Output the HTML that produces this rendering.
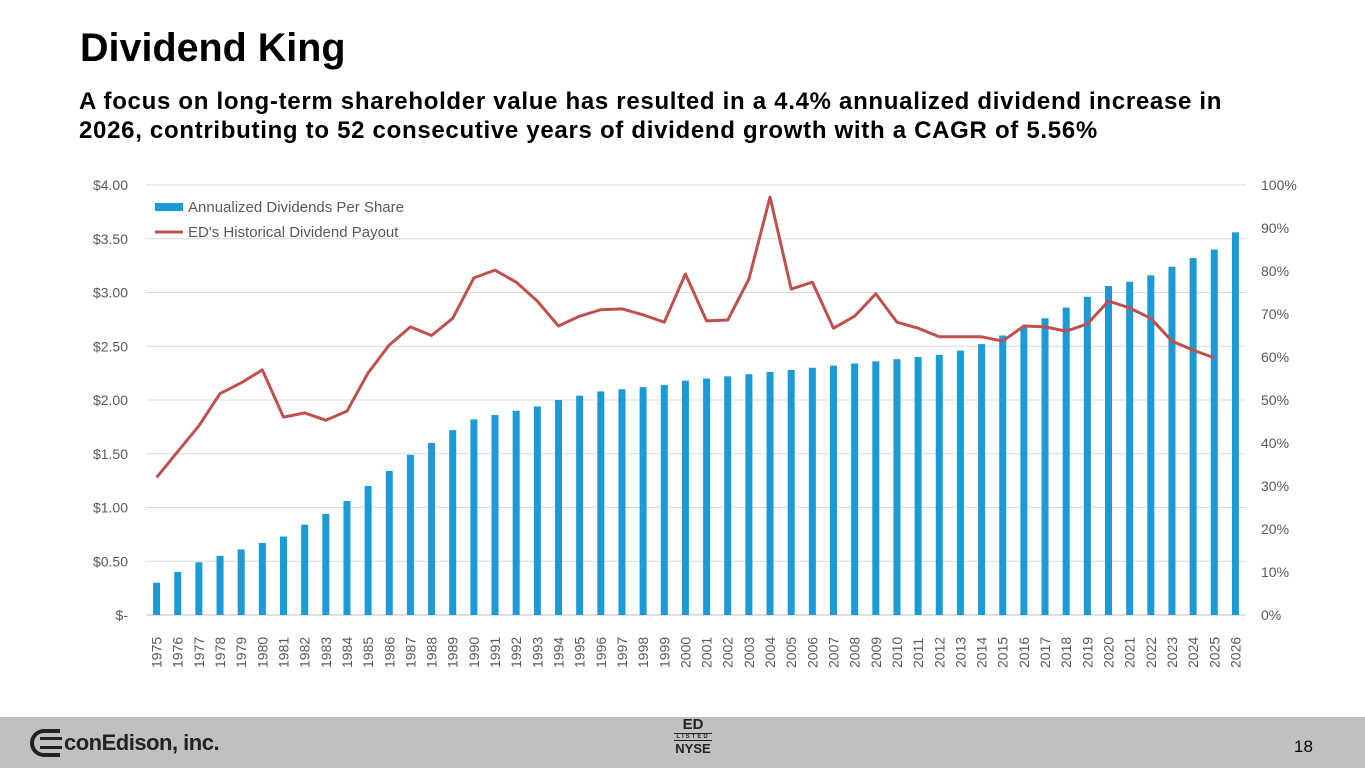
<!DOCTYPE html>
<html><head><meta charset="utf-8"><style>
body{margin:0;width:1365px;height:768px;overflow:hidden;background:#fff;font-family:"Liberation Sans",sans-serif;position:relative}
#title{position:absolute;left:80px;top:26px;font-size:39.5px;font-weight:bold;color:#000;margin:0}
#sub{position:absolute;left:79px;top:87px;font-size:24px;letter-spacing:0.7px;font-weight:bold;color:#000;line-height:29px;margin:0;white-space:nowrap}
#footer{position:absolute;left:0;top:717px;width:1365px;height:51px;background:#c0c0c0}
svg text{font-family:"Liberation Sans",sans-serif}
</style></head><body>
<h1 id="title">Dividend King</h1>
<p id="sub">A focus on long-term shareholder value has resulted in a 4.4% annualized dividend increase in<br>2026, contributing to 52 consecutive years of dividend growth with a CAGR of 5.56%</p>
<svg id="chart" width="1365" height="700" style="position:absolute;left:0;top:0"></svg>
<div id="footer">
  <div style="position:absolute;left:30px;top:12px;width:30px;height:28px;border:4px solid #222;border-right:none;border-radius:16px 0 0 16px;box-sizing:border-box"></div>
  <div style="position:absolute;left:40px;top:20px;width:22px;height:12px;border-top:3px solid #222;border-bottom:3px solid #222;box-sizing:border-box"></div>
  <div style="position:absolute;left:64px;top:13px;font-size:22px;font-weight:bold;color:#222;letter-spacing:-0.5px">conEdison, inc.</div>
  <div style="position:absolute;left:672px;top:0px;width:42px;text-align:center;color:#222;font-weight:bold;line-height:1">
    <div style="font-size:15px">ED</div><div style="font-size:6px;letter-spacing:2px;border-top:1px solid #222;border-bottom:1px solid #222;margin:1px 2px">LISTED</div><div style="font-size:13px">NYSE</div></div>
  <div style="position:absolute;left:1294px;top:20px;font-size:17px;color:#000">18</div>
</div>
<script>
const years=[];for(let y=1975;y<=2026;y++)years.push(String(y));
const dividends=[0.30,0.40,0.49,0.55,0.61,0.67,0.73,0.84,0.94,1.06,1.20,1.34,1.49,1.60,1.72,1.82,1.86,1.90,1.94,2.00,2.04,2.08,2.10,2.12,2.14,2.18,2.20,2.22,2.24,2.26,2.28,2.30,2.32,2.34,2.36,2.38,2.40,2.42,2.46,2.52,2.60,2.68,2.76,2.86,2.96,3.06,3.10,3.16,3.24,3.32,3.40,3.56];
const payout=[32,38,44,51.5,54,57,46,47,45.3,47.4,56.3,62.8,67,65,69,78.4,80.2,77.4,73,67.2,69.5,71,71.2,69.8,68.1,79.3,68.4,68.6,78.1,97.2,75.8,77.4,66.7,69.5,74.7,68.1,66.7,64.7,64.7,64.7,63.7,67.2,67,66,67.7,73,71.4,69,63.7,61.6,59.8];
const leftTicks=["$-","$0.50","$1.00","$1.50","$2.00","$2.50","$3.00","$3.50","$4.00"];
const rightTicks=["0%","10%","20%","30%","40%","50%","60%","70%","80%","90%","100%"];
const NS="http://www.w3.org/2000/svg",svg=document.getElementById('chart');
const X0=146,X1=1246,Y0=615,Y1=185;
const step=(X1-X0)/years.length;
const xs=i=>X0+step*(i+0.5);
const yL=v=>Y0-(v/4)*(Y0-Y1);
const yR=v=>Y0-(v/100)*(Y0-Y1);
function mk(t,a,p){const e=document.createElementNS(NS,t);for(const k in a)e.setAttribute(k,a[k]);(p||svg).appendChild(e);return e;}
leftTicks.forEach((t,i)=>{const y=yL(i*0.5);
 const g=mk('line',{x1:X0,x2:X1,y1:y,y2:y,stroke:i?'#d9d9d9':'#bfbfbf','stroke-width':1});
 
 
 const tx=mk('text',{x:128,y:y+5,'text-anchor':'end','font-size':14,fill:'#595959'});tx.textContent=t;
 
 });
rightTicks.forEach((t,i)=>{const y=yR(i*10);
 const tx=mk('text',{x:1261,y:y+5,'font-size':14,fill:'#595959'});tx.textContent=t;
 
 });
years.forEach((yr,i)=>{const x=xs(i);
 const b=mk('rect',{x:x-3.5,y:yL(dividends[i]),width:7,height:Y0-yL(dividends[i]),fill:'#1a9bd7'});
 
 
 const tx=mk('text',{transform:`translate(${x+5},668) rotate(-90)`,'font-size':14,fill:'#595959'});tx.textContent=yr;
 
 });
const pl=mk('polyline',{points:payout.map((v,i)=>xs(i)+','+yR(v)).join(' '),fill:'none',stroke:'#c0504d','stroke-width':3,'stroke-linejoin':'round'});


const l1=mk('rect',{x:155,y:203,width:28,height:8,fill:'#1a9bd7'});


const t1=mk('text',{x:188,y:212,'font-size':15,fill:'#595959'});t1.textContent='Annualized Dividends Per Share';


const l2=mk('line',{x1:155,x2:183,y1:232,y2:232,stroke:'#c0504d','stroke-width':3});


const t2=mk('text',{x:188,y:237,'font-size':15,fill:'#595959'});t2.textContent="ED's Historical Dividend Payout";


</script>
</body></html>
